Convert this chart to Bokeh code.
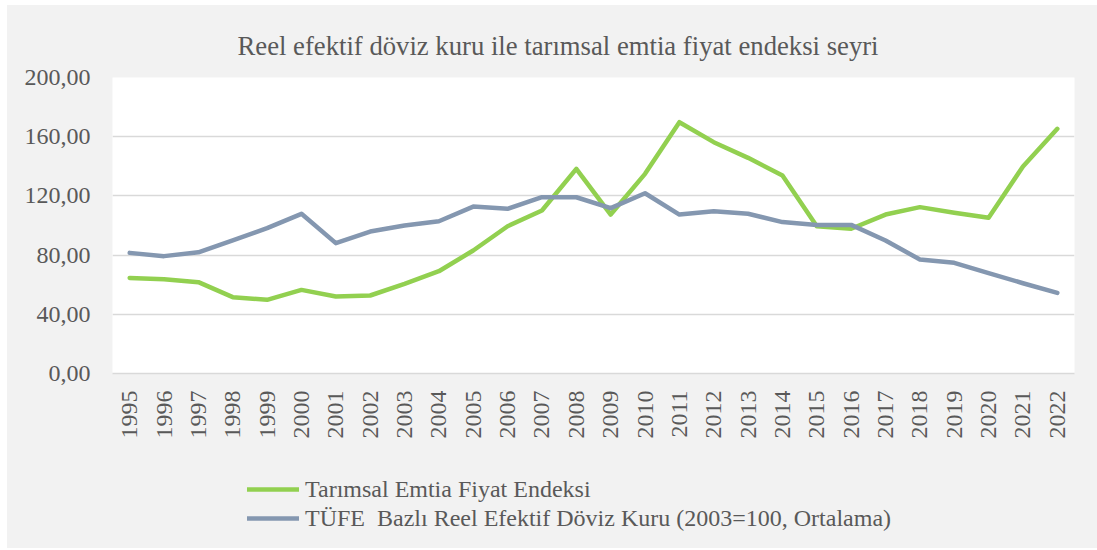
import math
from bokeh.plotting import figure
from bokeh.layouts import column
from bokeh.models import FactorRange, Range1d, FixedTicker, Legend, LegendItem, Title
from bokeh.embed import file_html
from bokeh.resources import INLINE

years = [str(y) for y in range(1995, 2023)]
tarimsal = [64.6, 63.7, 61.7, 51.6, 49.8, 56.5, 52.0, 52.7, 60.6, 69.1, 83.1, 99.5, 110.1, 138.3,
            107.4, 134.9, 169.8, 156.3, 145.7, 133.8, 99.5, 97.8, 107.4, 112.4, 108.6, 105.2, 139.9, 165.3]
tufe_reel = [81.5, 79.3, 81.9, 89.9, 98.2, 107.9, 88.1, 95.9, 100.0, 102.9, 112.8, 111.3, 119.1, 119.1,
             111.7, 121.8, 107.4, 109.7, 107.9, 102.3, 100.4, 100.4, 89.9, 77.0, 74.8, 67.8, 61.0, 54.5]
y_ticks = [0, 40, 80, 120, 160, 200]
y_tick_labels = ["0,00", "40,00", "80,00", "120,00", "160,00", "200,00"]
title_text = "Reel efektif döviz kuru ile tarımsal emtia fiyat endeksi seyri"
series_names = ["Tarımsal Emtia Fiyat Endeksi",
                "TÜFE  Bazlı Reel Efektif Döviz Kuru (2003=100, Ortalama)"]

FONT = "Liberation Serif"
TXT = "#595959"
GRID = "#d9d9d9"
BG = "#f2f2f2"
GREEN = "#92d050"
BLUE = "#8497b0"

# main chart
p = figure(width=1090, height=455, x_range=FactorRange(*years), y_range=Range1d(0, 200),
           output_backend="svg", toolbar_location=None,
           min_border_left=105, min_border_right=23, min_border_top=72, min_border_bottom=87)
p.background_fill_color = "white"
p.border_fill_color = BG
p.outline_line_color = None

p.line(years, tarimsal, line_color=GREEN, line_width=4.5, line_join="round", line_cap="round")
p.line(years, tufe_reel, line_color=BLUE, line_width=4.5, line_join="round", line_cap="round")

p.xgrid.grid_line_color = None
p.ygrid.grid_line_color = GRID
p.ygrid.grid_line_width = 1.5

p.yaxis.ticker = FixedTicker(ticks=y_ticks)
p.yaxis.major_label_overrides = {t: l for t, l in zip(y_ticks, y_tick_labels)}
p.yaxis.axis_line_color = None
p.yaxis.major_tick_line_color = None
p.yaxis.minor_tick_line_color = None
p.yaxis.major_label_standoff = 16
p.yaxis.major_label_text_font = FONT
p.yaxis.major_label_text_font_size = "24px"
p.yaxis.major_label_text_color = TXT

p.xaxis.axis_line_color = GRID
p.xaxis.axis_line_width = 1.5
p.xaxis.major_tick_line_color = None
p.xaxis.minor_tick_line_color = None
p.xaxis.major_label_orientation = math.pi / 2
p.xaxis.major_label_standoff = 11
p.xaxis.major_label_text_font = FONT
p.xaxis.major_label_text_font_size = "24px"
p.xaxis.major_label_text_color = TXT

p.title = Title(text=title_text, align="left", offset=125, standoff=34,
                text_font=FONT, text_font_size="26.7px", text_font_style="normal",
                text_color=TXT)

# legend strip below the chart (series drawn out of view, only their legend glyphs show)
lg = figure(width=1090, height=88, x_range=FactorRange(*years), y_range=Range1d(1000, 1088),
            output_backend="svg", toolbar_location=None,
            x_axis_location=None, y_axis_location=None,
            min_border_left=0, min_border_right=0, min_border_top=0, min_border_bottom=0)
lg.background_fill_alpha = 0
lg.border_fill_color = BG
lg.outline_line_color = None
lg.grid.grid_line_color = None
g1 = lg.line(years, tarimsal, line_color=GREEN, line_width=4.5, line_join="round", line_cap="round")
g2 = lg.line(years, tufe_reel, line_color=BLUE, line_width=4.5, line_join="round", line_cap="round")

legend = Legend(items=[LegendItem(label=series_names[0], renderers=[g1]),
                       LegendItem(label=series_names[1], renderers=[g2])],
                location=(135, 16.5), orientation="vertical",
                glyph_width=52, glyph_height=26, label_height=26, spacing=2,
                label_standoff=6, padding=0, margin=0,
                border_line_color=None, background_fill_alpha=0,
                label_text_font=FONT, label_text_font_size="24px", label_text_color=TXT)
lg.add_layout(legend)

layout = column(p, lg, spacing=0, margin=(5, 0, 0, 7), styles={"background-color": BG})
open("out.html", "w").write(file_html(layout, INLINE))
